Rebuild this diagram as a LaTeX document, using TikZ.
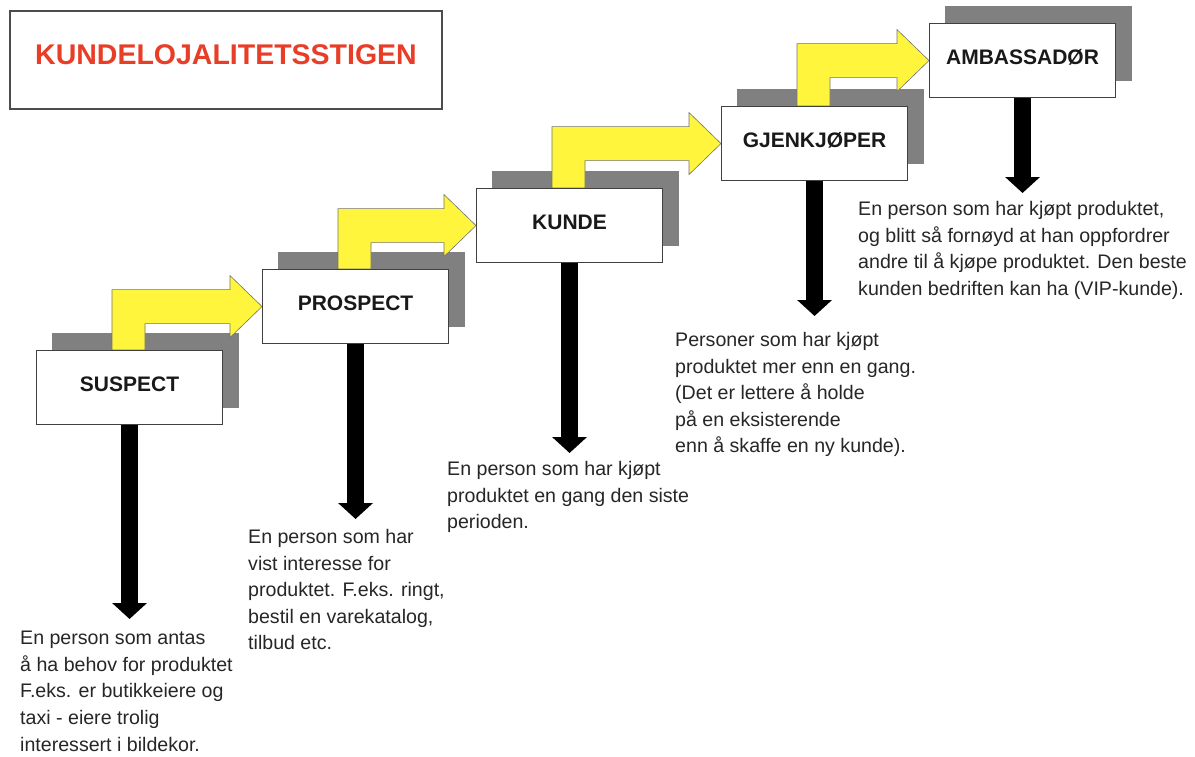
\documentclass[tikz,border=0pt]{standalone}
\usepackage{fontspec}
\setmainfont{Liberation Sans}
\usetikzlibrary{arrows.meta,calc}
\definecolor{titlered}{RGB}{232,62,40}
\definecolor{climbyellow}{RGB}{255,245,60}
\definecolor{shadowgray}{RGB}{128,128,128}
\pgfdeclarelayer{shade}
\pgfdeclarelayer{links}
\pgfsetlayers{shade,links,main}
\tikzset{
  titlebox/.style={draw=black!70, line width=1.3pt, fill=white,
    minimum width=432pt, minimum height=98pt, inner sep=0pt,
    text=titlered, font=\fontsize{28.5}{32}\bfseries\selectfont,
    text height=20.4pt, text depth=12pt},
  stage/.style={draw=black!75, line width=1.1pt, fill=white,
    minimum width=186pt, minimum height=74pt, inner sep=0pt,
    anchor=north west, text=black!90,
    font=\fontsize{21}{25}\bfseries\selectfont,
    text height=15pt, text depth=7pt},
  stageshadow/.style={fill=shadowgray},
  climb/.style={fill=climbyellow, draw=black!55, line width=0.6pt},
  drop/.style={draw=black, line width=17pt,
    -{Triangle[width=34pt,length=16pt]}},
  desc/.style={anchor=north west, inner sep=0pt, align=left,
    text=black!85, font=\fontsize{19.6}{26.6}\selectfont}
}
% yellow step arrow rising from the top of one stage to the side of the next
\newcommand\climbto[2]{%
  \filldraw[climb] let \p1=(#1.north west), \p2=(#2.west) in
    (\x1+76pt,\y1) -- (\x1+76pt,\y2+17pt) -- (\x2-32pt,\y2+17pt)
    -- (\x2-32pt,\y2+31pt) -- (\x2,\y2) -- (\x2-32pt,\y2-31pt)
    -- (\x2-32pt,\y2-17pt) -- (\x1+109pt,\y2-17pt) -- (\x1+109pt,\y1)
    -- cycle;}
\begin{document}
\begin{tikzpicture}[x=1pt,y=-1pt]
\useasboundingbox (0,0) rectangle (1195,756);

% title
\node[titlebox] (title) at (226,60) {KUNDELOJALITETSSTIGEN};

% the five stages of the ladder
\node[stage] (suspect)  at (36,350)  {SUSPECT};
\node[stage] (prospect) at (262,269) {PROSPECT};
\node[stage] (kunde)    at (476,188) {KUNDE};
\node[stage] (gjen)     at (721,106) {GJENKJØPER};
\node[stage] (amb)      at (929,23)  {AMBASSADØR};

% drop shadows behind the stages
\begin{pgfonlayer}{shade}
\foreach \b in {suspect,prospect,kunde,gjen,amb}
  \fill[stageshadow] ($(\b.north west)+(16,-17)$) rectangle ($(\b.south east)+(16,-17)$);
\end{pgfonlayer}

% step arrows and description pointers
\coordinate (d1) at (129,619);
\coordinate (d2) at (355,519);
\coordinate (d3) at (569,453);
\coordinate (d4) at (814,316);
\coordinate (d5) at (1022,193);
\begin{pgfonlayer}{links}
\climbto{suspect}{prospect}
\climbto{prospect}{kunde}
\climbto{kunde}{gjen}
\climbto{gjen}{amb}
\draw[drop] (suspect.south)  -- (suspect.south |- d1);
\draw[drop] (prospect.south) -- (prospect.south |- d2);
\draw[drop] (kunde.south)    -- (kunde.south |- d3);
\draw[drop] (gjen.south)     -- (gjen.south |- d4);
\draw[drop] (amb.south)      -- (amb.south |- d5);
\end{pgfonlayer}

% descriptions
\node[desc] (t1) at (20,631) {En person som antas\\å ha behov for produktet\\F.eks. er butikkeiere og\\taxi - eiere trolig\\interessert i bildekor.};
\node[desc] (t2) at (248,529) {En person som har\\vist interesse for\\produktet. F.eks. ringt,\\bestil en varekatalog,\\tilbud etc.};
\node[desc] (t3) at (447,461) {En person som har kjøpt\\produktet en gang den siste\\perioden.};
\node[desc] (t4) at (675,332) {Personer som har kjøpt\\produktet mer enn en gang.\\(Det er lettere å holde\\på en eksisterende\\enn å skaffe en ny kunde).};
\node[desc] (t5) at (858,201) {En person som har kjøpt produktet,\\og blitt så fornøyd at han oppfordrer\\andre til å kjøpe produktet. Den beste\\kunden bedriften kan ha (VIP-kunde).};
\end{tikzpicture}
\end{document}
